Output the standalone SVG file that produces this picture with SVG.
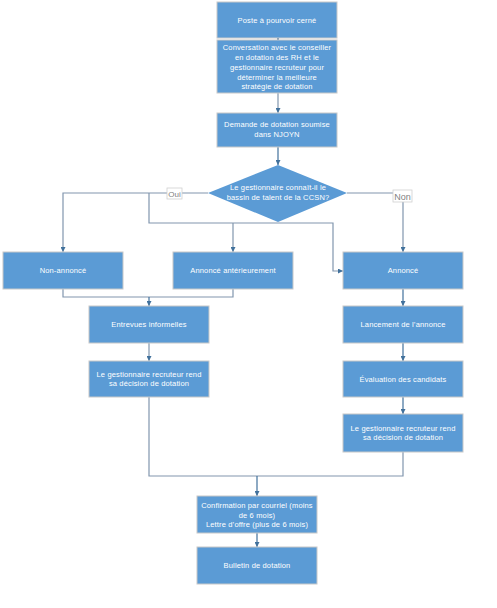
<svg xmlns="http://www.w3.org/2000/svg" width="497" height="608" viewBox="0 0 497 608">
<defs>
<style>
.box{fill:#5B9BD5;stroke:#C8C8C8;stroke-width:1}
.t{font-family:"Liberation Sans",Arial,sans-serif;font-size:7.5px;letter-spacing:0.15px;fill:#FFFFFF;text-anchor:middle}
.c{fill:none;stroke:#41719C;stroke-width:1.2}
.c2{fill:none;stroke:#8196AE;stroke-width:1.2}
.lbl{fill:#FFFFFF;stroke:#D0D0D0;stroke-width:0.8}
.lt{font-family:"Liberation Sans",Arial,sans-serif;fill:#7F7F7F;text-anchor:middle}
</style>
<marker id="ah" markerWidth="6" markerHeight="5" refX="5" refY="2.5" orient="auto" markerUnits="userSpaceOnUse">
<path d="M0,0 L5,2.5 L0,5 Z" fill="#41719C"/>
</marker>
</defs>
<rect width="497" height="608" fill="#FFFFFF"/>
<g id="connectors">
<path class="c" d="M278,38 V40" marker-end="url(#ah)"/>
<path class="c2" d="M278,93 V113" marker-end="url(#ah)"/>
<path class="c" d="M278,147 V165" marker-end="url(#ah)"/>
<path class="c2" d="M208,193 H63 V252" marker-end="url(#ah)"/>
<path class="c2" d="M149,193 V223 H333 V271 H343" marker-end="url(#ah)"/>
<path class="c2" d="M233,223 V252" marker-end="url(#ah)"/>
<path class="c2" d="M347,193 H403 V252" marker-end="url(#ah)"/>
<path class="c2" d="M63,289 V297 H233 V289"/>
<path class="c" d="M149,297 V306" marker-end="url(#ah)"/>
<path class="c2" d="M149,343 V361" marker-end="url(#ah)"/>
<path class="c2" d="M149,397 V476 H403 V452"/>
<path class="c" d="M257,476 V496" marker-end="url(#ah)"/>
<path class="c" d="M257,533 V547" marker-end="url(#ah)"/>
<path class="c" d="M403,289 V306" marker-end="url(#ah)"/>
<path class="c" d="M403,343 V361" marker-end="url(#ah)"/>
<path class="c" d="M403,397 V414" marker-end="url(#ah)"/>
<rect class="lbl" x="167" y="188" width="15" height="11"/>
<text class="lt" x="174.5" y="196.5" font-size="8">Oui</text>
<rect class="lbl" x="393" y="190" width="19" height="12"/>
<text class="lt" x="402.5" y="199.5" font-size="9">Non</text>
</g>
<g id="n1"><rect class="box" x="217" y="2" width="120" height="36"/><text class="t" x="277" y="22.5">Poste à pourvoir cerné</text></g>
<g id="n2"><rect class="box" x="217" y="40" width="120" height="53"/>
<text class="t" x="277" y="49.5">Conversation avec le conseiller</text>
<text class="t" x="277" y="59.5">en dotation des RH et le</text>
<text class="t" x="277" y="69.5">gestionnaire recruteur pour</text>
<text class="t" x="277" y="79.5">déterminer la meilleure</text>
<text class="t" x="277" y="89">stratégie de dotation</text></g>
<g id="n3"><rect class="box" x="217" y="113" width="120" height="34"/>
<text class="t" x="277" y="127">Demande de dotation soumise</text>
<text class="t" x="277" y="137">dans NJOYN</text></g>
<g id="n4"><path d="M278,165 L347,193 L278,222 L208,193 Z" fill="#5B9BD5"/>
<text class="t" x="278" y="190">Le gestionnaire connaît-il le</text>
<text class="t" x="278" y="200">bassin de talent de la CCSN?</text></g>
<g id="n5"><rect class="box" x="3" y="252" width="120" height="37"/><text class="t" x="63" y="273">Non-annoncé</text></g>
<g id="n6"><rect class="box" x="173" y="252" width="120" height="37"/><text class="t" x="233" y="273">Annoncé antérieurement</text></g>
<g id="n7"><rect class="box" x="343" y="252" width="120" height="37"/><text class="t" x="403" y="273">Annoncé</text></g>
<g id="n8"><rect class="box" x="89" y="306" width="120" height="37"/><text class="t" x="149" y="327">Entrevues informelles</text></g>
<g id="n9"><rect class="box" x="89" y="361" width="120" height="36"/>
<text class="t" x="149" y="376.5">Le gestionnaire recruteur rend</text>
<text class="t" x="149" y="385.5">sa décision de dotation</text></g>
<g id="n10"><rect class="box" x="343" y="306" width="120" height="37"/><text class="t" x="403" y="327">Lancement de l’annonce</text></g>
<g id="n11"><rect class="box" x="343" y="361" width="120" height="36"/><text class="t" x="403" y="382">Évaluation des candidats</text></g>
<g id="n12"><rect class="box" x="343" y="414" width="120" height="38"/>
<text class="t" x="403" y="430.5">Le gestionnaire recruteur rend</text>
<text class="t" x="403" y="440">sa décision de dotation</text></g>
<g id="n13"><rect class="box" x="197" y="496" width="120" height="37"/>
<text class="t" x="257" y="508">Confirmation par courriel (moins</text>
<text class="t" x="257" y="517.5">de 6 mois)</text>
<text class="t" x="257" y="527">Lettre d’offre (plus de 6 mois)</text></g>
<g id="n14"><rect class="box" x="197" y="547" width="120" height="37"/><text class="t" x="257" y="568">Bulletin de dotation</text></g>
</svg>
